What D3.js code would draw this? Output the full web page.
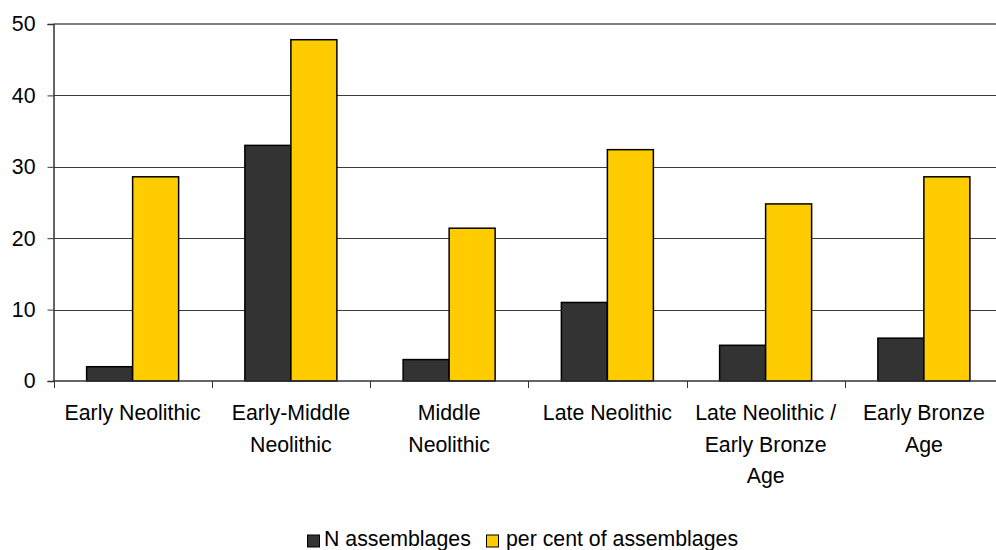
<!DOCTYPE html>
<html>
<head>
<meta charset="utf-8">
<script src="https://cdn.jsdelivr.net/npm/d3@7"></script>
<style>
  html, body { margin: 0; padding: 0; background: #fff; }
  svg { display: block; font-family: "Liberation Sans", Arial, sans-serif; }
</style>
</head>
<body>
<svg id="chart" width="996" height="550"></svg>
<script>
// Assemblage counts and percentages by period
const categories = [
  "Early Neolithic",
  "Early-Middle Neolithic",
  "Middle Neolithic",
  "Late Neolithic",
  "Late Neolithic / Early Bronze Age",
  "Early Bronze Age"
];
const categoryLines = [
  ["Early Neolithic"],
  ["Early-Middle", "Neolithic"],
  ["Middle", "Neolithic"],
  ["Late Neolithic"],
  ["Late Neolithic /", "Early Bronze", "Age"],
  ["Early Bronze", "Age"]
];
const seriesNames = ["N assemblages", "per cent of assemblages"];
const nAssemblages = [2, 33, 3, 11, 5, 6];
const perCent = [28.6, 47.8, 21.4, 32.4, 24.8, 28.6];
const yTicks = [0, 10, 20, 30, 40, 50];
const colors = ["#333333", "#FFCC00"];

const svg = d3.select("#chart");
const fontSize = 21.3;
const plot = { left: 53.5, right: 1003, top: 24, bottom: 381 };

const x0 = d3.scaleBand().domain(categories).range([plot.left, plot.right]).padding(0);
const x1 = d3.scaleBand().domain(seriesNames).range([0, x0.bandwidth()])
  .paddingInner(0).paddingOuter(0.72);
const y = d3.scaleLinear().domain([0, 50]).range([plot.bottom, plot.top]);

// Horizontal gridlines
svg.append("g")
  .selectAll("line")
  .data(yTicks.filter(t => t > 0 && t < 50))
  .join("line")
  .attr("x1", plot.left).attr("x2", plot.right)
  .attr("y1", d => Math.round(y(d)) + 0.5).attr("y2", d => Math.round(y(d)) + 0.5)
  .attr("stroke", "#3a3a3a").attr("stroke-width", 1);

// Plot area top border
svg.append("line")
  .attr("x1", plot.left).attr("x2", plot.right)
  .attr("y1", y(50)).attr("y2", y(50))
  .attr("stroke", "#808080").attr("stroke-width", 2);

// Bars
const rows = categories.map((c, i) => ({ cat: c, vals: [nAssemblages[i], perCent[i]] }));
const groups = svg.append("g").selectAll("g")
  .data(rows).join("g")
  .attr("transform", d => `translate(${x0(d.cat)},0)`);
groups.selectAll("rect")
  .data(d => d.vals.map((v, j) => ({ key: seriesNames[j], v, j })))
  .join("rect")
  .attr("x", d => x1(d.key))
  .attr("width", x1.bandwidth())
  .attr("y", d => y(d.v))
  .attr("height", d => y(0) - y(d.v))
  .attr("fill", d => colors[d.j])
  .attr("stroke", "#000").attr("stroke-width", 1.5);

// Y axis
const yAxis = svg.append("g")
  .attr("transform", `translate(${plot.left},0)`)
  .call(d3.axisLeft(y).tickValues(yTicks).tickSize(6).tickPadding(12).tickFormat(d3.format("d")));
yAxis.select(".domain").attr("stroke", "#333").attr("stroke-width", 1.5);
yAxis.selectAll(".tick line").attr("stroke", "#333");
yAxis.selectAll(".tick text")
  .attr("font-size", fontSize).attr("fill", "#000")
  .attr("font-family", "Liberation Sans, Arial, sans-serif");

// X axis
const xAxis = svg.append("g")
  .attr("transform", `translate(0,${plot.bottom})`);
xAxis.append("line")
  .attr("x1", plot.left).attr("x2", plot.right)
  .attr("y1", 0).attr("y2", 0)
  .attr("stroke", "#333").attr("stroke-width", 1.5);
const boundaries = categories.map(c => x0(c));
xAxis.selectAll("line.tick")
  .data(boundaries).join("line")
  .attr("class", "tick")
  .attr("x1", d => Math.round(d) + 0.5).attr("x2", d => Math.round(d) + 0.5)
  .attr("y1", 0).attr("y2", 7)
  .attr("stroke", "#333").attr("stroke-width", 1);

const labels = xAxis.selectAll("text.cat")
  .data(categories).join("text")
  .attr("class", "cat")
  .attr("text-anchor", "middle")
  .attr("font-size", fontSize)
  .attr("fill", "#000");
labels.each(function(c, i) {
  const t = d3.select(this);
  categoryLines[i].forEach((line, k) => {
    t.append("tspan")
      .attr("x", x0(c) + x0.bandwidth() / 2)
      .attr("y", 39 + k * 31.5)
      .text(line);
  });
});

// Legend
const legend = svg.append("g").attr("transform", "translate(0,546)");
const legendItems = [
  { name: seriesNames[0], color: colors[0], box: 307.5, text: 324 },
  { name: seriesNames[1], color: colors[1], box: 486.5, text: 506 }
];
legendItems.forEach(it => {
  legend.append("rect")
    .attr("x", it.box).attr("y", -11)
    .attr("width", 12).attr("height", 12)
    .attr("fill", it.color).attr("stroke", "#000").attr("stroke-width", 1);
  legend.append("text")
    .attr("x", it.text).attr("y", 0)
    .attr("font-size", fontSize).attr("fill", "#000")
    .text(it.name);
});
</script>
</body>
</html>
